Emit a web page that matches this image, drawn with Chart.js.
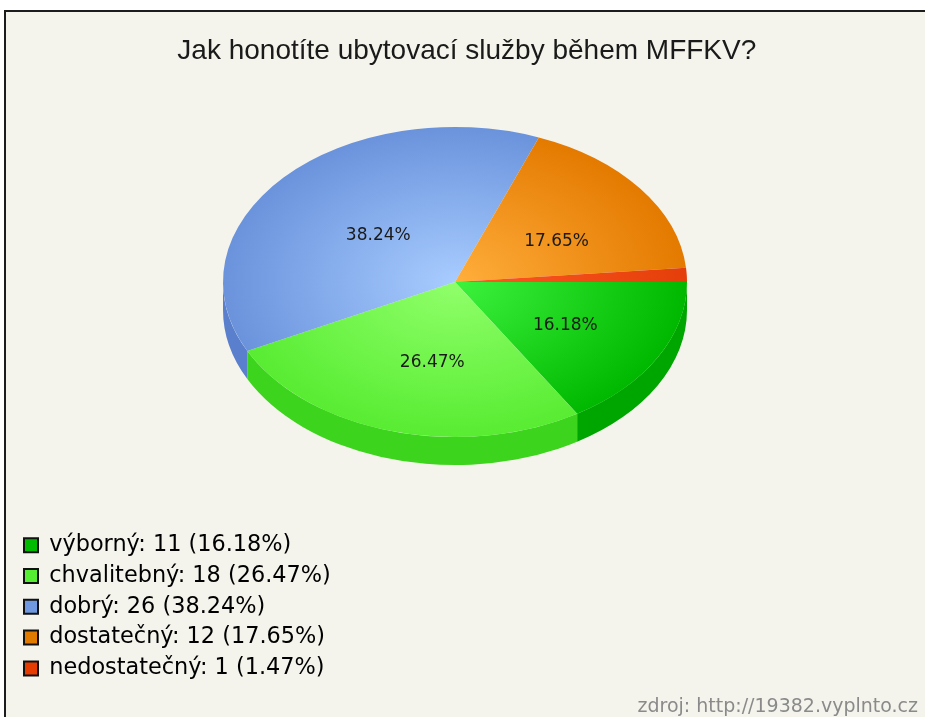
<!DOCTYPE html>
<html>
<head>
<meta charset="utf-8">
<script src="https://cdn.jsdelivr.net/npm/chart.js@4/dist/chart.umd.min.js"></script>
<style>
  html, body { margin: 0; padding: 0; background: #ffffff; }
  #frame {
    position: absolute; left: 4px; top: 10px; width: 960px; height: 740px;
    border-left: 2px solid #1c1c1c; border-top: 2px solid #1c1c1c;
    background: #f4f4ec;
  }
  #wrap { position: absolute; left: 0; top: 0; width: 925px; height: 717px; }
</style>
</head>
<body>
<div id="frame"></div>
<div id="wrap"><canvas id="pie" width="925" height="717"></canvas></div>
<script>
const categories = ['výborný', 'chvalitebný', 'dobrý', 'dostatečný', 'nedostatečný'];
const counts = [11, 18, 26, 12, 1];
const chartTitle = 'Jak honotíte ubytovací služby během MFFKV?';
const sourceText = 'zdroj: http://19382.vyplnto.cz';

// colours: centre of top face, rim of top face, side wall, legend box
const lightColors = ['#3df23d', '#90ff6a', '#a8ccff', '#ffae3c', '#ff5a22'];
const rimColors = ['#00b800', '#58ec32', '#6a93dc', '#e47a00', '#e43e0a'];
const sideColors = ['#00a600', '#3cd41c', '#5a7fcc', '#c86a00', '#c83408'];
const legendColors = ['#00bb00', '#55ee33', '#6f98e0', '#e07b00', '#e63c00'];

// where the tilted pie lands on the page
const PIE = { cx: 455, cy: 282, rx: 232, ry: 155, depth: 28 };

const total = counts.reduce((a, b) => a + b, 0);
const pct = v => (v / total * 100).toFixed(2) + '%';

function faceGradient(context) {
  const i = context.dataIndex;
  const area = context.chart.chartArea;
  if (!area) return rimColors[i];
  const x = (area.left + area.right) / 2;
  const y = (area.top + area.bottom) / 2;
  const r = Math.min(area.right - area.left, area.bottom - area.top) / 2;
  const g = context.chart.ctx.createRadialGradient(x, y, 0, x, y, r);
  g.addColorStop(0, lightColors[i]);
  g.addColorStop(1, rimColors[i]);
  return g;
}

const pie3d = {
  id: 'pie3d',
  beforeDatasetsDraw(chart) {
    const ctx = chart.ctx;
    const arcs = chart.getDatasetMeta(0).data;
    if (!arcs.length) return;
    const { x, y, outerRadius } = arcs[0].getProps(['x', 'y', 'outerRadius'], true);
    ctx.save();
    // side wall, only the front half (angles 0..PI) is visible
    arcs.forEach((arc, i) => {
      const { startAngle, endAngle } = arc.getProps(['startAngle', 'endAngle'], true);
      const s = Math.max(startAngle, 0);
      const e = Math.min(endAngle, Math.PI);
      if (e <= s) return;
      ctx.beginPath();
      ctx.ellipse(PIE.cx, PIE.cy, PIE.rx, PIE.ry, 0, s, e);
      ctx.ellipse(PIE.cx, PIE.cy + PIE.depth, PIE.rx, PIE.ry, 0, e, s, true);
      ctx.closePath();
      ctx.fillStyle = sideColors[i];
      ctx.fill();
    });
    // squash the circular pie into the top face
    ctx.translate(PIE.cx, PIE.cy);
    ctx.scale(PIE.rx / outerRadius, PIE.ry / outerRadius);
    ctx.translate(-x, -y);
  },
  afterDatasetsDraw(chart) {
    const ctx = chart.ctx;
    ctx.restore();
    const arcs = chart.getDatasetMeta(0).data;
    ctx.save();
    ctx.font = '17px "DejaVu Sans"';
    ctx.fillStyle = '#1a1a1a';
    ctx.textAlign = 'center';
    ctx.textBaseline = 'middle';
    arcs.forEach((arc, i) => {
      if (counts[i] / total < 0.05) return;
      const { startAngle, endAngle } = arc.getProps(['startAngle', 'endAngle'], true);
      const mid = (startAngle + endAngle) / 2;
      const lx = PIE.cx + 9 + PIE.rx * 0.5 * Math.cos(mid);
      const ly = PIE.cy + 6 + PIE.ry * 0.5 * Math.sin(mid);
      ctx.fillText(pct(counts[i]), lx, ly);
    });
    ctx.restore();
  }
};

new Chart(document.getElementById('pie'), {
  type: 'pie',
  data: {
    labels: categories,
    datasets: [{
      data: counts,
      backgroundColor: faceGradient,
      borderWidth: 0,
      hoverOffset: 0
    }]
  },
  options: {
    responsive: false,
    animation: false,
    rotation: 90,
    layout: { padding: { left: 15.6, right: 7, top: 22, bottom: 0 } },
    plugins: {
      tooltip: { enabled: false },
      title: {
        display: true,
        text: chartTitle,
        color: '#1a1a1a',
        font: { family: '"Liberation Sans"', size: 28, weight: 'normal' },
        padding: { top: 12, bottom: 4 }
      },
      subtitle: {
        display: true,
        position: 'bottom',
        align: 'end',
        text: sourceText,
        color: '#8a8a8a',
        font: { family: '"DejaVu Sans"', size: 19, weight: 'normal', lineHeight: 1 },
        padding: { top: 10, bottom: 0 }
      },
      legend: {
        position: 'left',
        align: 'end',
        fullSize: false,
        labels: {
          color: '#1a1a1a',
          font: { family: '"DejaVu Sans"', size: 22.4 },
          boxWidth: 14,
          boxHeight: 14,
          padding: 8.4,
          generateLabels: chart => categories.map((c, i) => ({
            text: c + ': ' + counts[i] + ' (' + pct(counts[i]) + ')',
            fillStyle: legendColors[i],
            strokeStyle: '#111111',
            lineWidth: 2,
            hidden: false,
            index: i
          }))
        }
      }
    }
  },
  plugins: [pie3d]
});
</script>
</body>
</html>
